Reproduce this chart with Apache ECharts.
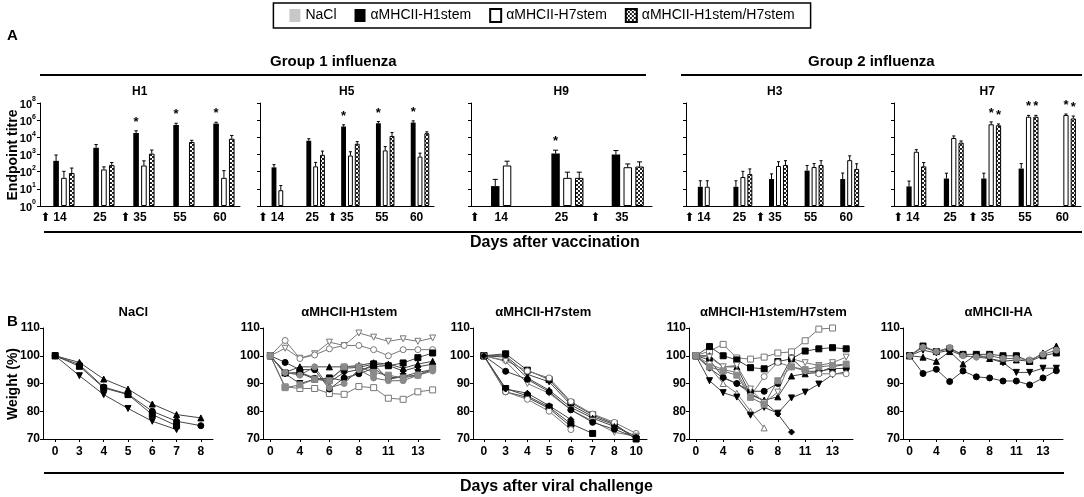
<!DOCTYPE html>
<html>
<head>
<meta charset="utf-8">
<script src="https://cdn.jsdelivr.net/npm/echarts@6/dist/echarts.min.js"></script>
<style>
  html, body { margin: 0; padding: 0; background: #fff; }
  #chart { width: 1084px; height: 497px; }
</style>
</head>
<body>
<div id="chart"></div>
<script>
// ---------- data: panel A (log10 endpoint titre) ----------
var groupNames = ['NaCl', 'αMHCII-H1stem', 'αMHCII-H7stem', 'αMHCII-H1stem/H7stem'];
var titreTickLabels = ['0', '1', '2', '3', '4', '6', '8'];
var vaccArrows = ['14', '35'];   // boost arrows drawn left of these days

var h1Days = ['14', '25', '35', '55', '60'];
var h1NaCl = [null, null, null, null, null];
var h1Black = [2.63, 3.39, 4.25, 4.72, 4.8];
var h1White = [1.64, 2.13, 2.36, null, 1.64];
var h1Mix = [1.92, 2.38, 3.05, 3.73, 3.92];
var h1BlackErr = [0.34, 0.19, 0.13, 0.1, 0.08];
var h1WhiteErr = [0.38, 0.15, 0.27, null, 0.42];
var h1MixErr = [0.29, 0.15, 0.21, 0.1, 0.19];
var h1Stars = [[1, 2], [1, 3], [1, 4]];

var h5Days = ['14', '25', '35', '55', '60'];
var h5NaCl = [null, null, null, null, null];
var h5Black = [2.25, 3.8, 4.63, 4.82, 4.86];
var h5White = [0.92, 2.31, 2.94, 3.24, 2.88];
var h5Mix = [null, 2.98, 3.63, 4.08, 4.24];
var h5BlackErr = [0.16, 0.12, 0.1, 0.1, 0.1];
var h5WhiteErr = [0.27, 0.23, 0.22, 0.22, 0.2];
var h5MixErr = [null, 0.22, 0.12, 0.2, 0.08];
var h5Stars = [[1, 2], [1, 3], [1, 4]];

var h9Days = ['14', '25', '35'];
var h9NaCl = [null, null, null];
var h9Black = [1.16, 3.06, 3.0];
var h9White = [2.36, 1.64, 2.26];
var h9Mix = [null, 1.64, 2.3];
var h9BlackErr = [0.39, 0.19, 0.23];
var h9WhiteErr = [0.25, 0.33, 0.19];
var h9MixErr = [null, 0.33, 0.27];
var h9Stars = [[1, 1]];

var h3Days = ['14', '25', '35', '55', '60'];
var h3NaCl = [null, null, null, null, null];
var h3Black = [1.12, 1.12, 1.57, 2.06, 1.57];
var h3White = [1.12, 1.69, 2.33, 2.27, 2.67];
var h3Mix = [null, 1.86, 2.39, 2.39, 2.16];
var h3BlackErr = [0.35, 0.35, 0.3, 0.3, 0.35];
var h3WhiteErr = [0.35, 0.33, 0.25, 0.2, 0.25];
var h3MixErr = [null, 0.3, 0.25, 0.25, 0.3];
var h3Stars = [];

var h7Days = ['14', '25', '35', '55', '60'];
var h7NaCl = [null, null, null, null, null];
var h7Black = [1.14, 1.6, 1.6, 2.18, null];
var h7White = [3.16, 3.96, 4.76, 5.2, 5.3];
var h7Mix = [2.31, 3.69, 4.7, 5.2, 5.1];
var h7BlackErr = [0.31, 0.31, 0.31, 0.29, null];
var h7WhiteErr = [0.12, 0.12, 0.14, 0.08, 0.06];
var h7MixErr = [0.22, 0.1, 0.08, 0.08, 0.14];
var h7Stars = [[2, 2], [3, 2], [2, 3], [3, 3], [2, 4], [3, 4]];

// ---------- data: panel B (weight %) ----------
var naclDays = ['0', '3', '4', '5', '6', '7', '8'];
var naclWeights = [
  [100, 97.6, 91.6, 88, 82.6, 78.8, 77.6],
  [100, 96.8, 88.7, 86.2, 80, 76.4, 74.8],
  [100, 96.2, 88.4, 86, 78.8, 74.8, null],
  [100, 92.8, 86, 81, 76.4, 73.4, null]
];

var h7stemDays = ['0', '3', '4', '5', '6', '7', '8', '10'];
var h7stemWeights = [
  [100, 100.7, 94.8, 91.4, 83.1, 78.7, 75.5, 70],
  [100, 100, 93.3, 90.6, 82.3, 78.1, 75.1, 70],
  [100, 98.3, 94.5, 92, 83.5, 79, 76, 72],
  [100, 99.5, 92, 87.6, 81.4, 77.5, 74.5, 71],
  [100, 98, 90, 86.5, 80.5, 76.5, 72.4, 71],
  [100, 94.4, 91.5, 87, 80.5, 76, 73.5, 70.5],
  [100, 88.2, 85.5, 81.5, 75.5, 72, null, null],
  [100, 87, 85, 81, 74.5, null, null, null],
  [100, 87, 84.3, 80, 73.4, null, null, null],
  [100, 88, 86.5, 82, 77, null, null, null]
];

var longDays = ['0', '2', '4', '5', '6', '7', '8', '10', '11', '12', '13', '14'];
var h1stemWeights = [
  [100, 102.7, 99.1, 100.7, 104.9, 103.7, 108.2, 106.7, 105.2, 106.1, 105.2, 106.4],
  [100, 105.5, 99, 100.3, 102.5, 103.7, 103.7, 102.2, 100, 102.2, 102.2, 102.2],
  [100, 88.8, 88.2, 88.2, 86.4, 86.1, 88.9, 88.5, 84.7, 84.3, 87, 87.7],
  [100, 93.8, 93.8, 91.6, 91.6, 95.5, 95.8, 97, 96.4, 97.4, 99.3, 101],
  [100, 97.6, 95, 95, 88, 92, 93.5, 95.5, 92, 92.5, 93, 95],
  [100, 94, 96, 96, 96, 96, 96.5, 97.5, 97, 95.5, 97, 98],
  [100, 93.5, 90, 91.5, 92, 91, 94, 97, 91.5, 92.5, 94, 95],
  [100, 93.5, 94, 92, 90.5, 94, 95, 96, 96.5, 94.5, 96, 97],
  [100, 88.5, 89.5, 91.5, 91, 96, 96, 94, 93, 92, 93, 95.5],
  [100, 94, 93, 96, 88.5, 90, 95, 92, 91, 91, 93, 94.5]
];
var mixWeights = [
  [100, 101.7, 104.1, 99.2, 98.8, 99.5, 101, 101.4, 105.4, 109.6, 110, null],
  [100, 103.3, 100, 98.5, 95.7, 95.3, 97.9, 98.9, 101.7, 102.5, 102.9, 102.5],
  [100, 96, 90, 86.5, 80, 74, null, null, null, null, null, null],
  [100, 91, 86.7, 85.1, 78.6, 81.4, 79.3, 84.8, 86.9, 89.8, 93.2, 94.2],
  [100, 95.5, 92, 90, 86.5, 83.5, 79, 72.5, null, null, null, null],
  [100, 98.5, 92.2, 90, 87.2, 87.2, 90, 99.2, 94.4, 94.4, 95.3, 95.5],
  [100, 100, 96, 96, 85.8, 84, 85.2, 92.7, 93.5, 94, 96, 97],
  [100, 97, 95, 94, 85.5, 92.5, 97.6, 96, 94.5, 93.5, 93.5, 93.5],
  [100, 99.5, 96, 96.5, 88, 83, 86.9, 99, 97.5, 96.5, 97.5, 99.5],
  [100, 96, 94.5, 93, 85, 82.5, 91, 96, 95, 96, 96.5, 97]
];
var haWeights = [
  [100, 93.6, 95.1, 90.7, 94.5, 92.4, 92, 90.9, 90.9, 89.5, 92, 94.6],
  [100, 103.5, 101.5, 102.5, 100.5, 100.5, 100.5, 100, 100, 98, 100, 101],
  [100, 99.5, 98, 101.5, 97, 100.5, 99, 98, 98.5, 98, 101, 103.5],
  [100, 102, 101, 102, 100, 99.5, 99, 97.5, 94, 94, 95.5, 95.5],
  [100, 103, 101.5, 103, 100, 99.5, 100, 99, 99, 98.5, 100.5, 102]
];

// ---------- styles / layout ----------
var font = '"Liberation Sans", Arial, sans-serif';
var chart = echarts.init(document.getElementById('chart'));

function checker() {
  var c = document.createElement('canvas');
  c.width = 4; c.height = 4;
  var g = c.getContext('2d');
  g.fillStyle = '#fff'; g.fillRect(0, 0, 4, 4);
  g.fillStyle = '#222'; g.fillRect(0, 0, 2, 2); g.fillRect(2, 2, 2, 2);
  return c;
}
var barStyles = [
  { color: '#c8c8c8' },
  { color: '#000' },
  { color: '#fff', borderColor: '#000', borderWidth: 1 },
  { color: { image: checker(), repeat: 'repeat' }, borderColor: '#000', borderWidth: 1 }
];

var panelsA = [
  { name: 'H1', days: h1Days, vals: [h1NaCl, h1Black, h1White, h1Mix], errs: [null, h1BlackErr, h1WhiteErr, h1MixErr], stars: h1Stars, left: 40, width: 200, arrowW: 13 },
  { name: 'H5', days: h5Days, vals: [h5NaCl, h5Black, h5White, h5Mix], errs: [null, h5BlackErr, h5WhiteErr, h5MixErr], stars: h5Stars, left: 260, width: 174, arrowW: 13 },
  { name: 'H9', days: h9Days, vals: [h9NaCl, h9Black, h9White, h9Mix], errs: [null, h9BlackErr, h9WhiteErr, h9MixErr], stars: h9Stars, left: 471, width: 181, arrowW: 25 },
  { name: 'H3', days: h3Days, vals: [h3NaCl, h3Black, h3White, h3Mix], errs: [null, h3BlackErr, h3WhiteErr, h3MixErr], stars: h3Stars, left: 686, width: 178, arrowW: 13 },
  { name: 'H7', days: h7Days, vals: [h7NaCl, h7Black, h7White, h7Mix], errs: [null, h7BlackErr, h7WhiteErr, h7MixErr], stars: h7Stars, left: 894, width: 187, arrowW: 13 }
];

var markers = {
  tri: { symbol: 'triangle', rot: 0, fill: '#000', line: '#444' },
  dtri: { symbol: 'triangle', rot: 180, fill: '#000', line: '#444' },
  circ: { symbol: 'circle', rot: 0, fill: '#000', line: '#444' },
  sq: { symbol: 'rect', rot: 0, fill: '#000', line: '#444' },
  dia: { symbol: 'diamond', rot: 0, fill: '#000', line: '#444' },
  gsq: { symbol: 'rect', rot: 0, fill: '#8a8a8a', line: '#666' },
  gcirc: { symbol: 'circle', rot: 0, fill: '#8a8a8a', line: '#666' },
  otri: { symbol: 'triangle', rot: 0, fill: '#fff', line: '#777' },
  odtri: { symbol: 'triangle', rot: 180, fill: '#fff', line: '#777' },
  ocirc: { symbol: 'circle', rot: 0, fill: '#fff', line: '#777' },
  osq: { symbol: 'rect', rot: 0, fill: '#fff', line: '#777' }
};

var panelsB = [
  { name: 'NaCl', days: naclDays, lines: naclWeights, marks: ['tri', 'circ', 'sq', 'dtri'], left: 43, width: 170, titleX: 133, every: 0 },
  { name: 'αMHCII-H1stem', days: longDays, lines: h1stemWeights, marks: ['odtri', 'ocirc', 'osq', 'sq', 'circ', 'tri', 'dtri', 'dia', 'gsq', 'gcirc'], left: 263, width: 177, titleX: 348, every: 1 },
  { name: 'αMHCII-H7stem', days: h7stemDays, lines: h7stemWeights, marks: ['sq', 'dtri', 'ocirc', 'tri', 'odtri', 'circ', 'sq', 'circ', 'ocirc', 'dia'], left: 473, width: 174, titleX: 542, every: 0 },
  { name: 'αMHCII-H1stem/H7stem', days: longDays, lines: mixWeights, marks: ['osq', 'sq', 'otri', 'dtri', 'dia', 'circ', 'tri', 'ocirc', 'odtri', 'gsq'], left: 689, width: 164, titleX: 772, every: 1 },
  { name: 'αMHCII-HA', days: longDays, lines: haWeights, marks: ['circ', 'sq', 'tri', 'dtri', 'gcirc'], left: 903, width: 160, titleX: 997, every: 1 }
];

var grids = [], xAxes = [], yAxes = [], series = [], graphics = [];
var axisLineStyle = { lineStyle: { color: '#000', width: 1 } };

panelsA.forEach(function (p, i) {
  grids.push({ left: p.left, top: 103, width: p.width, height: 103 });
  xAxes.push({
    type: 'category', gridIndex: i, data: p.days,
    axisLine: axisLineStyle, axisTick: { show: false },
    axisLabel: {
      margin: 6, interval: 0,
      formatter: function (v) {
        return vaccArrows.indexOf(v) >= 0 ? '{ar|⬆}{n|' + v + '}{pd|}' : '{n|' + v + '}';
      },
      rich: {
        ar: { width: p.arrowW, align: 'left', fontSize: 12, fontFamily: 'DejaVu Sans', color: '#000' },
        n: { fontSize: 12, fontWeight: 'bold', fontFamily: font, color: '#000' },
        pd: { width: p.arrowW }
      }
    }
  });
  yAxes.push({
    type: 'value', gridIndex: i, min: 0, max: 6, interval: 1,
    axisLine: { show: true, lineStyle: { color: '#000', width: 1 } },
    axisTick: { show: true, length: 3, lineStyle: { color: '#000' } },
    splitLine: { show: false },
    axisLabel: {
      show: i === 0, margin: 4,
      formatter: function (v) { return '{b|10}{s|' + titreTickLabels[v] + '}'; },
      rich: {
        b: { fontSize: 11, fontWeight: 'bold', fontFamily: font, color: '#000', lineHeight: 14, verticalAlign: 'bottom' },
        s: { fontSize: 7, fontWeight: 'bold', fontFamily: font, color: '#000', lineHeight: 14, verticalAlign: 'top' }
      }
    }
  });
  for (var s = 0; s < 4; s++) {
    series.push({
      type: 'bar', name: groupNames[s], xAxisIndex: i, yAxisIndex: i,
      data: p.vals[s], barWidth: '14%', barGap: '40%',
      itemStyle: barStyles[s], animation: false, silent: true
    });
  }
  var errData = [];
  for (s = 1; s < 4; s++) {
    p.vals[s].forEach(function (v, k) {
      if (v == null) return;
      var star = p.stars.some(function (st) { return st[0] === s && st[1] === k; }) ? 1 : 0;
      errData.push([k, s, v, p.errs[s][k], star]);
    });
  }
  series.push({
    type: 'custom', xAxisIndex: i, yAxisIndex: i, data: errData, z: 5,
    encode: { x: 0, y: 2 }, animation: false, silent: true,
    renderItem: function (params, api) {
      var band = api.size([1, 0])[0];
      var bw = band * 0.14, step = bw * 1.4;
      var k = api.value(0), s = api.value(1), v = api.value(2), e = api.value(3);
      var x = api.coord([k, 0])[0] + (s - 1.5) * step;
      var yTop = api.coord([k, v])[1];
      var yErr = api.coord([k, v + e])[1];
      var cap = Math.max(1.5, bw * 0.3);
      var kids = [
        { type: 'line', shape: { x1: x, y1: yTop, x2: x, y2: yErr }, style: { stroke: '#000', lineWidth: 1 } },
        { type: 'line', shape: { x1: x - cap, y1: yErr, x2: x + cap, y2: yErr }, style: { stroke: '#000', lineWidth: 1 } }
      ];
      if (api.value(4)) {
        kids.push({ type: 'text', style: { text: '*', x: x, y: yErr - 2, align: 'center', verticalAlign: 'bottom', font: 'bold 13px ' + font, fill: '#000' } });
      }
      return { type: 'group', children: kids };
    }
  });
  graphics.push({ type: 'text', left: p.left + p.width / 2 - 8, top: 86, style: { text: p.name, font: 'bold 12px ' + font, fill: '#000' } });
});

panelsB.forEach(function (p, j) {
  var gi = panelsA.length + j;
  grids.push({ left: p.left, top: 328, width: p.width, height: 111 });
  xAxes.push({
    type: 'category', gridIndex: gi, data: p.days, boundaryGap: true,
    axisLine: axisLineStyle,
    axisTick: { show: true, length: 3, alignWithLabel: true, interval: p.every, lineStyle: { color: '#000' } },
    axisLabel: { interval: p.every, margin: 7, fontSize: 12, fontWeight: 'bold', fontFamily: font, color: '#000' }
  });
  yAxes.push({
    type: 'value', gridIndex: gi, min: 70, max: 110, interval: 10,
    axisLine: { show: true, lineStyle: { color: '#000', width: 1 } },
    axisTick: { show: true, length: 3, lineStyle: { color: '#000' } },
    splitLine: { show: false },
    axisLabel: { margin: 3, fontSize: 12, fontWeight: 'bold', fontFamily: font, color: '#000' }
  });
  p.lines.forEach(function (d, m) {
    var mk = markers[p.marks[m]];
    series.push({
      type: 'line', xAxisIndex: gi, yAxisIndex: gi, data: d,
      symbol: mk.symbol, symbolRotate: mk.rot, symbolSize: 6, showAllSymbol: true,
      lineStyle: { color: mk.line, width: 1 },
      itemStyle: { color: mk.fill, borderColor: mk.fill === '#fff' ? '#777' : mk.fill, borderWidth: 1 },
      animation: false, silent: true, z: 3
    });
  });
  graphics.push({ type: 'text', left: p.titleX - p.name.length * 3.6, top: 306, style: { text: p.name, font: 'bold 13px ' + font, fill: '#000' } });
});

// figure annotations
graphics.push(
  { type: 'text', left: 7, top: 28, style: { text: 'A', font: 'bold 15px ' + font, fill: '#000' } },
  { type: 'text', left: 7, top: 314, style: { text: 'B', font: 'bold 15px ' + font, fill: '#000' } },
  { type: 'text', left: 270, top: 54, style: { text: 'Group 1 influenza', font: 'bold 15px ' + font, fill: '#000' } },
  { type: 'text', left: 808, top: 54, style: { text: 'Group 2 influenza', font: 'bold 15px ' + font, fill: '#000' } },
  { type: 'line', shape: { x1: 40, y1: 75, x2: 646, y2: 75 }, style: { stroke: '#000', lineWidth: 2 } },
  { type: 'line', shape: { x1: 681, y1: 75, x2: 1082, y2: 75 }, style: { stroke: '#000', lineWidth: 2 } },
  { type: 'line', shape: { x1: 44, y1: 232, x2: 1082, y2: 232 }, style: { stroke: '#000', lineWidth: 2 } },
  { type: 'text', left: 470, top: 235, style: { text: 'Days after vaccination', font: 'bold 16px ' + font, fill: '#000' } },
  { type: 'line', shape: { x1: 44, y1: 473, x2: 1064, y2: 473 }, style: { stroke: '#000', lineWidth: 2 } },
  { type: 'text', left: 460, top: 479, style: { text: 'Days after viral challenge', font: 'bold 16px ' + font, fill: '#000' } },
  { type: 'text', x: 13, y: 155, rotation: Math.PI / 2, style: { text: 'Endpoint titre', font: 'bold 14px ' + font, fill: '#000', align: 'center', verticalAlign: 'middle' } },
  { type: 'text', x: 13, y: 384, rotation: Math.PI / 2, style: { text: 'Weight (%)', font: 'bold 14px ' + font, fill: '#000', align: 'center', verticalAlign: 'middle' } }
);

chart.setOption({
  animation: false,
  textStyle: { fontFamily: font },
  legend: {
    data: groupNames, top: 3, left: 'center', icon: 'rect',
    itemWidth: 11, itemHeight: 13, itemGap: 18,
    padding: [5, 16], borderColor: '#000', borderWidth: 1.5,
    textStyle: { fontSize: 14, color: '#000', fontFamily: font }
  },
  grid: grids,
  xAxis: xAxes,
  yAxis: yAxes,
  series: series,
  graphic: graphics
});

window.addEventListener('resize', function () { chart.resize(); });
</script>
</body>
</html>
